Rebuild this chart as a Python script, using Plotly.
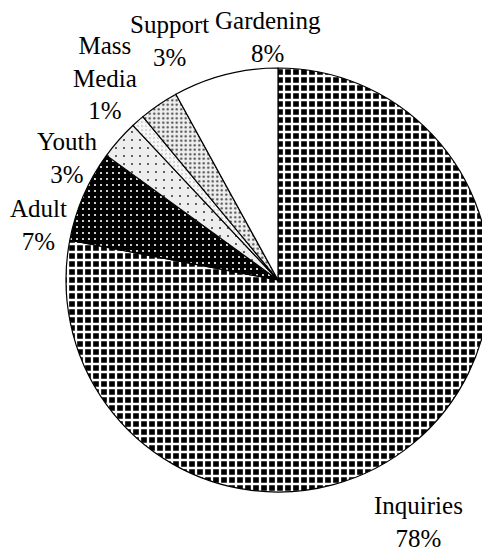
import plotly.graph_objects as go

labels = ["Inquiries", "Adult", "Youth", "Mass Media", "Support", "Gardening"]
values = [78, 7, 3, 1, 3, 8]
label_text = ["Inquiries<br>78%", "Adult<br>7%", "Youth<br>3%", "Mass<br>Media<br>1%", "Support<br>3%", "Gardening<br>8%"]
# label block centres in page pixels (x from left, y from top)
label_px = [(418, 521.5), (39, 224.5), (67, 158.5), (105, 78), (169, 41.5), (268, 37)]

OFF = 8  # default page body margin
W, H = 490 - OFF, 552 - OFF
FONT = "Liberation Serif, Times New Roman, serif"

bg_colors = ["#000000", "#000000", "#eeeeee", "#f6f6f6", "#eeeeee", "#ffffff"]
fg_colors = ["#ffffff", "#ffffff", "#333333", "#aaaaaa", "#444444", "#ffffff"]
shapes = ["+", ".", ".", ".", ".", ""]
sizes = [8, 6, 8, 4, 4.5, 8]
solids = [0.5, 0.1, 0.05, 0.12, 0.2, 0.3]

fig = go.Figure(go.Pie(
    labels=labels,
    values=values,
    sort=False,
    direction="clockwise",
    rotation=0,
    textinfo="none",
    hoverinfo="label+percent",
    marker=dict(
        colors=bg_colors,
        line=dict(color="#000000", width=1.2),
        pattern=dict(shape=shapes, fgcolor=fg_colors, bgcolor=bg_colors, size=sizes,
                     solidity=solids, fillmode="replace"),
    ),
    domain=dict(x=[(66 - OFF) / W, 1], y=[0.1, 0.9]),
    showlegend=False,
))

for txt, (px, py) in zip(label_text, label_px):
    fig.add_annotation(
        text=txt, x=(px - OFF) / W, y=1 - (py - OFF) / H, xref="paper", yref="paper",
        xanchor="center", yanchor="middle", showarrow=False, align="center",
        font=dict(family=FONT, size=25, color="#000000"),
    )

fig.update_layout(
    width=W, height=H,
    margin=dict(l=0, r=0, t=0, b=0),
    paper_bgcolor="#ffffff", plot_bgcolor="#ffffff",
)
fig.write_html("out.html")
